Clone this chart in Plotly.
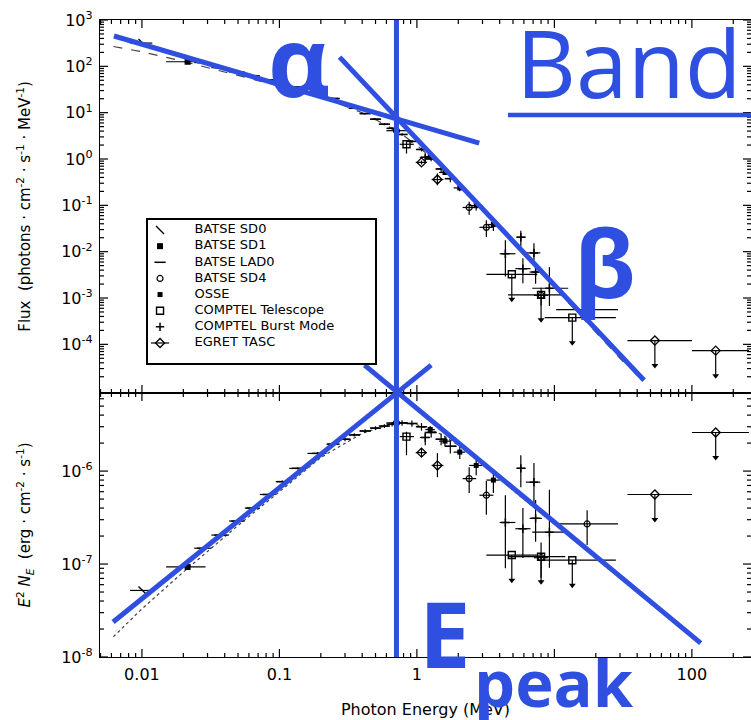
import plotly.graph_objects as go

# ---------------------------------------------------------------
# Broadband spectrum of a gamma-ray burst, E^2 N_E values in erg cm^-2 s^-1
# (top panel shows the same points converted to photon flux)
# ---------------------------------------------------------------
MEV_TO_ERG = 1.602e-6

SD0_E = [0.0101]
SD0_EMIN = [0.0082]
SD0_EMAX = [0.0119]
SD0_F = [5.2e-8]
SD0_FLO = [5.2e-8]
SD0_FHI = [5.2e-8]
SD0_UL = [0]

SD1_E = [0.0215]
SD1_EMIN = [0.0150]
SD1_EMAX = [0.0290]
SD1_F = [9.3e-8]
SD1_FLO = [9.0e-8]
SD1_FHI = [9.6e-8]
SD1_UL = [0]

LAD0_E = [0.0277, 0.037, 0.049, 0.063, 0.083, 0.105, 0.136, 0.19, 0.245, 0.30, 0.35,
          0.42, 0.50, 0.58, 0.66, 0.78, 0.92, 1.08, 1.27, 1.50, 1.75]
LAD0_EMIN = [0.024, 0.032, 0.043, 0.056, 0.072, 0.094, 0.118, 0.160, 0.220, 0.275, 0.325,
             0.385, 0.460, 0.540, 0.620, 0.720, 0.850, 1.00, 1.17, 1.38, 1.62]
LAD0_EMAX = [0.032, 0.043, 0.056, 0.072, 0.094, 0.118, 0.160, 0.220, 0.275, 0.325, 0.385,
             0.460, 0.540, 0.620, 0.720, 0.850, 1.00, 1.17, 1.38, 1.62, 1.95]
LAD0_F = [1.48e-7, 2.05e-7, 2.9e-7, 4.0e-7, 5.6e-7, 7.7e-7, 1.07e-6, 1.55e-6, 1.95e-6, 2.2e-6,
          2.45e-6, 2.7e-6, 2.9e-6, 3.05e-6, 3.2e-6, 3.3e-6, 3.25e-6, 3.0e-6, 2.6e-6, 2.2e-6, 1.85e-6]
LAD0_FLO = [1.44e-7, 2.0e-7, 2.83e-7, 3.9e-7, 5.45e-7, 7.5e-7, 1.04e-6, 1.5e-6, 1.88e-6, 2.1e-6,
            2.35e-6, 2.58e-6, 2.76e-6, 2.9e-6, 3.02e-6, 3.08e-6, 3.0e-6, 2.72e-6, 2.3e-6, 1.9e-6, 1.55e-6]
LAD0_FHI = [1.52e-7, 2.1e-7, 2.97e-7, 4.1e-7, 5.75e-7, 7.9e-7, 1.1e-6, 1.6e-6, 2.02e-6, 2.3e-6,
            2.55e-6, 2.82e-6, 3.04e-6, 3.2e-6, 3.38e-6, 3.52e-6, 3.5e-6, 3.28e-6, 2.9e-6, 2.5e-6, 2.15e-6]
LAD0_UL = [0] * 21

SD4_E = [0.71, 2.4, 3.2, 8.0, 17.3]
SD4_EMIN = [0.60, 2.15, 2.85, 7.1, 10.3]
SD4_EMAX = [0.84, 2.7, 3.6, 9.0, 29.0]
SD4_F = [3.3e-6, 8.3e-7, 5.5e-7, 1.17e-7, 2.7e-7]
SD4_FLO = [3.1e-6, 5.8e-7, 3.4e-7, 7.1e-8, 1.6e-7]
SD4_FHI = [3.5e-6, 1.1e-6, 7.8e-7, 1.7e-7, 3.8e-7]
SD4_UL = [0, 0, 0, 0, 0]

OSSE_E = [1.25, 1.6, 2.05, 2.7, 3.6]
OSSE_EMIN = [1.15, 1.45, 1.85, 2.4, 3.2]
OSSE_EMAX = [1.35, 1.75, 2.25, 3.0, 4.0]
OSSE_F = [2.8e-6, 2.1e-6, 1.6e-6, 1.15e-6, 8.0e-7]
OSSE_FLO = [2.55e-6, 1.85e-6, 1.35e-6, 9.0e-7, 5.8e-7]
OSSE_FHI = [3.05e-6, 2.35e-6, 1.85e-6, 1.4e-6, 1.05e-6]
OSSE_UL = [0, 0, 0, 0, 0]

CTEL_E = [0.84, 4.9, 8.0, 13.5]
CTEL_EMIN = [0.75, 3.2, 4.6, 8.5]
CTEL_EMAX = [0.95, 7.5, 12.0, 28.0]
CTEL_F = [2.35e-6, 1.25e-7, 1.2e-7, 1.1e-7]
CTEL_FLO = [1.48e-6, 1.25e-7, 1.2e-7, 1.1e-7]
CTEL_FHI = [2.65e-6, 1.25e-7, 1.2e-7, 1.1e-7]
CTEL_UL = [0, 1, 1, 1]

CBST_E = [1.15, 5.7, 7.1, 4.4, 5.9, 7.3, 9.2]
CBST_EMIN = [1.05, 5.3, 6.2, 4.0, 5.2, 6.6, 6.9]
CBST_EMAX = [1.25, 6.2, 7.9, 5.2, 6.7, 8.1, 12.6]
CBST_F = [2.3e-6, 1.07e-6, 7.6e-7, 2.8e-7, 2.4e-7, 3.1e-7, 2.2e-7]
CBST_FLO = [1.9e-6, 6.7e-7, 4.3e-7, 9.0e-8, 1.16e-7, 1.74e-7, 9.1e-8]
CBST_FHI = [2.65e-6, 1.48e-6, 1.22e-6, 5.5e-7, 4.0e-7, 4.9e-7, 6.3e-7]
CBST_UL = [0, 0, 0, 0, 0, 0, 0]

EGRET_E = [1.08, 1.41, 53.8, 149.0]
EGRET_EMIN = [0.98, 1.28, 34.0, 100.0]
EGRET_EMAX = [1.18, 1.56, 100.0, 260.0]
EGRET_F = [1.58e-6, 1.15e-6, 5.6e-7, 2.6e-6]
EGRET_FLO = [1.42e-6, 8.6e-7, 5.6e-7, 2.6e-6]
EGRET_FHI = [1.74e-6, 1.56e-6, 5.6e-7, 2.6e-6]
EGRET_UL = [0, 0, 1, 1]

# Band-function fit (E^2 N_E)
MODEL_E = [0.0062, 0.01, 0.02, 0.05, 0.1, 0.2, 0.4, 0.6, 0.8, 1.0, 1.5, 2.0, 3.0, 5.0, 10.0, 20.0, 35.0]
MODEL_F = [1.65e-8, 3.3e-8, 8.2e-8, 2.6e-7, 6.0e-7, 1.4e-6, 2.55e-6, 3.1e-6, 3.3e-6, 3.15e-6,
           2.5e-6, 1.9e-6, 1.18e-6, 6.2e-7, 2.7e-7, 1.15e-7, 6.0e-8]

# Power-law guide lines (alpha / beta slopes and peak energy)
ALPHA_E = [0.00626, 2.84]
ALPHA_FLUX = [451.0, 2.2]
BETA_E = [0.274, 44.9]
BETA_FLUX = [158.0, 1.68e-5]
E_PEAK = 0.71
RISE_E = [0.00617, 1.27]
RISE_NUFNU = [2.38e-8, 1.38e-5]
FALL_E = [0.416, 116.0]
FALL_NUFNU = [1.38e-5, 1.41e-8]

LEGEND_LABELS = ["BATSE SD0", "BATSE SD1", "BATSE LAD0", "BATSE SD4", "OSSE",
                 "COMPTEL Telescope", "COMPTEL Burst Mode", "EGRET TASC"]

X_TICKS = [0.01, 0.1, 1, 10, 100]
X_TICKTEXT = ["0.01", "0.1", "1", "", "100"]
TOP_TICKS = [1e3, 1e2, 1e1, 1e0, 1e-1, 1e-2, 1e-3, 1e-4]
TOP_TICKTEXT = ["10<sup>3</sup>", "10<sup>2</sup>", "10<sup>1</sup>", "10<sup>0</sup>",
                "10<sup>-1</sup>", "10<sup>-2</sup>", "10<sup>-3</sup>", "10<sup>-4</sup>"]
BOT_TICKS = [1e-6, 1e-7, 1e-8]
BOT_TICKTEXT = ["10<sup>-6</sup>", "10<sup>-7</sup>", "10<sup>-8</sup>"]

# ---------------------------------------------------------------
BLUE = "#2F4FE0"
W, H = 751, 720
ML, MR, MT, MB = 100, 0, 20, 63
PW, PH = W - ML - MR, H - MT - MB
SPLIT = 264 / PH                      # bottom panel height fraction
X_RANGE = [-2.305, 2.43]
TOP_RANGE = [-5.05, 3.0]
BOT_RANGE = [-8.0, -5.16]
ARROW_DEC_TOP = 0.54
ARROW_DEC_BOT = 0.27
MAJOR_LEN, MINOR_LEN = 8, 4           # tick lengths in pixels


def px_x(px):
    return (px - ML) / PW


def px_y(py):
    return (H - MB - py) / PH


def to_flux(e, nufnu):
    return nufnu / (e * e * MEV_TO_ERG)


fig = go.Figure()


def add_instrument(E, EMIN, EMAX, F, FLO, FHI, UL, marker):
    for panel in ("top", "bottom"):
        if panel == "top":
            conv = to_flux
            ax = dict(xaxis="x", yaxis="y")
            arrow = 10 ** (-ARROW_DEC_TOP)
        else:
            conv = lambda e, v: v
            ax = dict(xaxis="x2", yaxis="y2")
            arrow = 10 ** (-ARROW_DEC_BOT)
        y = [conv(e, v) for e, v in zip(E, F)]
        ylo = [conv(e, v) for e, v in zip(E, FLO)]
        yhi = [conv(e, v) for e, v in zip(E, FHI)]
        plus = []
        minus = []
        tips_x, tips_y = [], []
        for i in range(len(E)):
            if UL[i]:
                plus.append(0)
                minus.append(y[i] - y[i] * arrow)
                tips_x.append(E[i])
                tips_y.append(y[i] * arrow)
            else:
                plus.append(yhi[i] - y[i])
                minus.append(y[i] - ylo[i])
        fig.add_trace(go.Scatter(
            x=E, y=y, mode="markers", marker=marker, **ax,
            error_x=dict(type="data", symmetric=False,
                         array=[b - e for e, b in zip(E, EMAX)],
                         arrayminus=[e - a for e, a in zip(E, EMIN)],
                         color="black", thickness=1.2, width=0),
            error_y=dict(type="data", symmetric=False, array=plus, arrayminus=minus,
                         color="black", thickness=1.2, width=0),
            hoverinfo="skip"))
        if tips_x:
            fig.add_trace(go.Scatter(
                x=tips_x, y=tips_y, mode="markers", **ax,
                marker=dict(symbol="triangle-down", size=6, color="black"),
                hoverinfo="skip"))


MK = {
    "sd0": dict(symbol="line-nw-open", size=8, color="black", line=dict(width=1.3, color="black")),
    "sd1": dict(symbol="square", size=6, color="black"),
    "lad": dict(symbol="line-ew-open", size=8, color="black", line=dict(width=1.5, color="black")),
    "sd4": dict(symbol="circle-open", size=6, color="black", line=dict(width=1.2, color="black")),
    "osse": dict(symbol="square", size=5, color="black"),
    "ctel": dict(symbol="square-open", size=7, color="black", line=dict(width=1.4, color="black")),
    "cbst": dict(symbol="cross-thin-open", size=6, color="black", line=dict(width=1.5, color="black")),
    "egret": dict(symbol="diamond-open", size=7, color="black", line=dict(width=1.3, color="black")),
}

# model curve (dashed) in both panels
fig.add_trace(go.Scatter(x=MODEL_E, y=[to_flux(e, v) for e, v in zip(MODEL_E, MODEL_F)],
                         mode="lines", line=dict(color="#444", width=1.2, dash="dash"),
                         xaxis="x", yaxis="y", hoverinfo="skip"))
fig.add_trace(go.Scatter(x=MODEL_E, y=MODEL_F, mode="lines",
                         line=dict(color="#444", width=1.2, dash="dot"),
                         xaxis="x2", yaxis="y2", hoverinfo="skip"))

add_instrument(SD0_E, SD0_EMIN, SD0_EMAX, SD0_F, SD0_FLO, SD0_FHI, SD0_UL, MK["sd0"])
add_instrument(SD1_E, SD1_EMIN, SD1_EMAX, SD1_F, SD1_FLO, SD1_FHI, SD1_UL, MK["sd1"])
add_instrument(LAD0_E, LAD0_EMIN, LAD0_EMAX, LAD0_F, LAD0_FLO, LAD0_FHI, LAD0_UL, MK["lad"])
add_instrument(SD4_E, SD4_EMIN, SD4_EMAX, SD4_F, SD4_FLO, SD4_FHI, SD4_UL, MK["sd4"])
add_instrument(OSSE_E, OSSE_EMIN, OSSE_EMAX, OSSE_F, OSSE_FLO, OSSE_FHI, OSSE_UL, MK["osse"])
add_instrument(CTEL_E, CTEL_EMIN, CTEL_EMAX, CTEL_F, CTEL_FLO, CTEL_FHI, CTEL_UL, MK["ctel"])
add_instrument(CBST_E, CBST_EMIN, CBST_EMAX, CBST_F, CBST_FLO, CBST_FHI, CBST_UL, MK["cbst"])
add_instrument(EGRET_E, EGRET_EMIN, EGRET_EMAX, EGRET_F, EGRET_FLO, EGRET_FHI, EGRET_UL, MK["egret"])

# ---------------------------------------------------------------
# inward tick marks on all four sides of each panel (major + intermediate)
minor_x = [m * 10.0 ** k for k in range(-3, 3) for m in range(2, 10)]
minor_top = [m * 10.0 ** k for k in range(-6, 3) for m in range(2, 10)]
minor_bot = [m * 10.0 ** k for k in range(-9, -5) for m in range(2, 10)]
x_dec_per_px = (X_RANGE[1] - X_RANGE[0]) / PW


def in_range(v, rng):
    import math
    lv = math.log10(v)
    return rng[0] - 1e-9 <= lv <= rng[1] + 1e-9


def panel_ticks(xa, ya, yrng, yticks, yminor, ypx):
    y_dec_per_px = (yrng[1] - yrng[0]) / ypx
    for vals_x, vals_y, ln in ((X_TICKS, yticks, MAJOR_LEN), (minor_x, yminor, MINOR_LEN)):
        xs, ys = [], []
        x0, x1 = 10 ** X_RANGE[0], 10 ** X_RANGE[1]
        dx = 10 ** (ln * x_dec_per_px)
        for v in vals_y:
            if in_range(v, yrng):
                xs += [x0, x0 * dx, None, x1, x1 / dx, None]
                ys += [v, v, None, v, v, None]
        y0, y1 = 10 ** yrng[0], 10 ** yrng[1]
        dy = 10 ** (ln * y_dec_per_px)
        for e in vals_x:
            if in_range(e, X_RANGE):
                xs += [e, e, None, e, e, None]
                ys += [y0, y0 * dy, None, y1, y1 / dy, None]
        fig.add_trace(go.Scatter(x=xs, y=ys, mode="lines", xaxis=xa, yaxis=ya,
                                 line=dict(color="black", width=1.2),
                                 cliponaxis=False, hoverinfo="skip"))


panel_ticks("x", "y", TOP_RANGE, TOP_TICKS, minor_top, PH * (1 - SPLIT))
panel_ticks("x2", "y2", BOT_RANGE, BOT_TICKS, minor_bot, PH * SPLIT)

# guide lines: y3 follows the lower-panel scale, y4 the upper-panel scale, both over full height
guide = dict(color=BLUE, width=5)
fig.add_trace(go.Scatter(x=ALPHA_E, y=ALPHA_FLUX, mode="lines", line=guide,
                         xaxis="x2", yaxis="y4", hoverinfo="skip"))
fig.add_trace(go.Scatter(x=BETA_E, y=BETA_FLUX, mode="lines", line=guide,
                         xaxis="x2", yaxis="y4", hoverinfo="skip"))
fig.add_trace(go.Scatter(x=RISE_E, y=RISE_NUFNU, mode="lines", line=guide,
                         xaxis="x2", yaxis="y3", hoverinfo="skip"))
fig.add_trace(go.Scatter(x=FALL_E, y=FALL_NUFNU, mode="lines", line=guide,
                         xaxis="x2", yaxis="y3", hoverinfo="skip"))
fig.add_shape(type="line", xref="x2", yref="paper", x0=E_PEAK, x1=E_PEAK, y0=0, y1=1,
              line=dict(color=BLUE, width=5))

# legend panel
LEG_MARKERS = [MK["sd0"], MK["sd1"], MK["lad"], MK["sd4"], MK["osse"], MK["ctel"], MK["cbst"], MK["egret"]]
rows = list(range(len(LEGEND_LABELS)))
for r, m in zip(rows, LEG_MARKERS):
    fig.add_trace(go.Scatter(x=[0.053], y=[r], mode="markers", marker=m,
                             xaxis="x5", yaxis="y5", hoverinfo="skip"))
fig.add_trace(go.Scatter(x=[0.053], y=[rows[-1]], mode="markers",
                         marker=dict(symbol="line-ew-open", size=13, color="black",
                                     line=dict(width=1.2, color="black")),
                         xaxis="x5", yaxis="y5", hoverinfo="skip"))
fig.add_trace(go.Scatter(x=[0.205] * len(rows), y=rows, mode="text", text=LEGEND_LABELS,
                         textposition="middle right",
                         textfont=dict(family="DejaVu Sans", size=13, color="black"),
                         xaxis="x5", yaxis="y5", hoverinfo="skip"))

# ---------------------------------------------------------------
tickfont = dict(family="DejaVu Sans", size=16, color="black")
common = dict(type="log", showline=True, linecolor="black", linewidth=1.3, ticks="",
              mirror=True, showgrid=False, zeroline=False, tickfont=tickfont,
              ticklabelstandoff=3)

xt = dict(common, range=X_RANGE, domain=[0, 1], tickvals=X_TICKS, ticktext=X_TICKTEXT)
yt = dict(common, range=TOP_RANGE, domain=[SPLIT, 1], tickvals=TOP_TICKS, ticktext=TOP_TICKTEXT,
          title=dict(text="Flux  (photons · cm<sup>-2</sup> · s<sup>-1</sup> · MeV<sup>-1</sup>)",
                     font=dict(family="DejaVu Sans", size=15, color="black"), standoff=26))
yb = dict(common, range=BOT_RANGE, domain=[0, SPLIT], tickvals=BOT_TICKS, ticktext=BOT_TICKTEXT,
          title=dict(text="<i>E</i><sup>2</sup> <i>N<sub>E</sub></i>  (erg · cm<sup>-2</sup> · s<sup>-1</sup>)",
                     font=dict(family="DejaVu Sans", size=15, color="black"), standoff=26))

fig.update_layout(
    width=W, height=H, margin=dict(l=ML, r=MR, t=MT, b=MB, pad=0),
    paper_bgcolor="white", plot_bgcolor="rgba(0,0,0,0)", showlegend=False,
    font=dict(family="DejaVu Sans", color="black"),
    xaxis=dict(xt, anchor="y", showticklabels=False, matches="x2"),
    xaxis2=dict(xt, anchor="y2",
                title=dict(text="Photon Energy (MeV)",
                           font=dict(family="DejaVu Sans", size=16, color="black"), standoff=20)),
    yaxis=dict(yt, anchor="x"),
    yaxis2=dict(yb, anchor="x2"),
    yaxis3=dict(type="log", domain=[0, 1], anchor="x2", visible=False,
                range=[BOT_RANGE[0], BOT_RANGE[0] + (BOT_RANGE[1] - BOT_RANGE[0]) / SPLIT]),
    yaxis4=dict(type="log", domain=[0, 1], anchor="x2", visible=False,
                range=[TOP_RANGE[1] - (TOP_RANGE[1] - TOP_RANGE[0]) / (1 - SPLIT), TOP_RANGE[1]]),
    xaxis5=dict(domain=[px_x(148), px_x(375)], range=[0, 1], anchor="y5", showline=True,
                mirror=True, linecolor="black", linewidth=2, showticklabels=False, ticks="",
                showgrid=False, zeroline=False, fixedrange=True),
    yaxis5=dict(domain=[px_y(363), px_y(220)], range=[8.24, -0.62], anchor="x5", showline=True,
                mirror=True, linecolor="black", linewidth=2, showticklabels=False, ticks="",
                showgrid=False, zeroline=False, fixedrange=True),
)

# big blue labels
label_font = dict(family="Open Sans", color=BLUE)
fig.add_annotation(x=px_x(299), y=px_y(60), xref="paper", yref="paper", text="<b>α</b>",
                   showarrow=False, font=dict(label_font, size=96), xanchor="center", yanchor="middle")
fig.add_annotation(x=px_x(514), y=px_y(62), xref="paper", yref="paper", text="Band",
                   showarrow=False, font=dict(label_font, size=93), xanchor="left", yanchor="middle")
fig.add_annotation(x=px_x(604), y=px_y(262), xref="paper", yref="paper", text="<b>β</b>",
                   showarrow=False, font=dict(label_font, size=93), xanchor="center", yanchor="middle")
fig.add_annotation(x=px_x(417), y=px_y(632), xref="paper", yref="paper", text="<b>E</b>",
                   showarrow=False, font=dict(label_font, size=92), xanchor="left", yanchor="middle")
fig.add_annotation(x=px_x(472), y=px_y(682), xref="paper", yref="paper", text="<b>peak</b>",
                   showarrow=False, font=dict(label_font, size=65), xanchor="left", yanchor="middle")
fig.add_shape(type="line", xref="paper", yref="paper", x0=px_x(508), x1=px_x(760),
              y0=px_y(115), y1=px_y(115), line=dict(color=BLUE, width=4.5))

fig.write_html("out.html")
